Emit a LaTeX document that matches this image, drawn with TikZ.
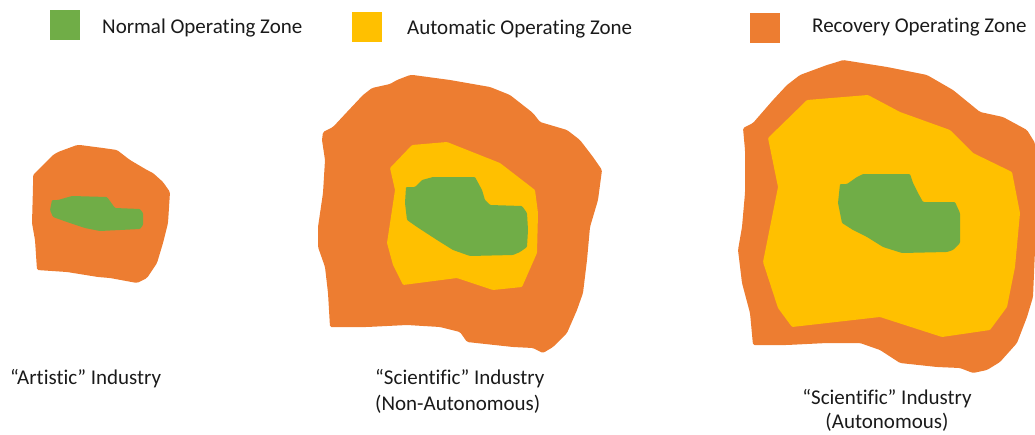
\documentclass[tikz,border=0pt]{standalone}
\usepackage{fontspec}
\setmainfont{Carlito}[Ligatures=NoCommon]
\definecolor{zonegreen}{HTML}{70AD47}
\definecolor{zoneyellow}{HTML}{FFC000}
\definecolor{zoneorange}{HTML}{ED7D31}
\definecolor{labeltext}{HTML}{1A1A1A}
\begin{document}
\begin{tikzpicture}[x=1pt,y=-1pt,
  swatch/.style={minimum width=30pt,minimum height=30pt,inner sep=0pt,outer sep=0pt},
  legendtext/.style={anchor=base west,inner sep=0pt,text=labeltext,font=\fontsize{21}{26}\selectfont},
  caption/.style={inner sep=0pt,text=labeltext,font=\fontsize{21}{26}\selectfont},
  recovery/.style={fill=zoneorange,rounded corners=1.5pt},
  automatic/.style={fill=zoneyellow,rounded corners=1pt},
  normal/.style={fill=zonegreen,rounded corners=1pt}]
\useasboundingbox (0,0) rectangle (1035,434);

% legend
\node[swatch,fill=zonegreen,anchor=north west] (swG) at (50,10) {};
\node[legendtext] (txG) at (102,33) {Normal Operating Zone};
\node[swatch,fill=zoneyellow,anchor=north west] (swY) at (352,12) {};
\node[legendtext] (txY) at (407,34) {Automatic Operating Zone};
\node[swatch,fill=zoneorange,anchor=north west] (swO) at (750,13) {};
\node[legendtext] (txO) at (812,32) {Recovery Operating Zone};

% "artistic" industry: small recovery zone around a thin normal zone
\fill[recovery] (77,145) -- (58,152) -- (53,155) -- (33,175) -- (33,187) -- (32,223)
  -- (35,240) -- (37,270) -- (67,272) -- (98,277) -- (110,278) -- (137,283)
  -- (147,278) -- (157,263) -- (163,243) -- (168,223) -- (170,192) -- (163,182)
  -- (153,173) -- (147,170) -- (130,160) -- (117,150) -- (103,148) -- (80,145) -- cycle;
\fill[normal] (52,200) -- (58,200) -- (72,196) -- (107,197) -- (115,208) -- (140,209)
  -- (143,213) -- (143,225) -- (140,229) -- (100,231) -- (85,228) -- (67,222)
  -- (53,217) -- (50,210) -- cycle;

% "scientific" industry, non-autonomous
\fill[recovery] (410,75) -- (397,80) -- (390,84) -- (372,88) -- (363,95) -- (347,112)
  -- (333,127) -- (323,132) -- (322,140) -- (325,160) -- (323,193) -- (318,227)
  -- (318,247) -- (325,267) -- (328,293) -- (330,327) -- (367,327) -- (407,325)
  -- (440,327) -- (460,332) -- (467,342) -- (513,347) -- (533,348) -- (543,353)
  -- (553,347) -- (567,333) -- (577,310) -- (583,293) -- (587,260) -- (590,227)
  -- (598,200) -- (602,170) -- (593,157) -- (580,140) -- (567,130) -- (540,122)
  -- (533,113) -- (510,95) -- (490,87) -- (450,80) -- (413,75) -- cycle;
\fill[automatic] (390,168) -- (412,145) -- (447,142) -- (500,163) -- (535,190)
  -- (538,213) -- (537,253) -- (522,287) -- (493,290) -- (457,278) -- (403,285)
  -- (393,265) -- (387,243) -- (392,210) -- (395,190) -- cycle;
\fill[normal] (406,187) -- (415,187) -- (422,180) -- (433,177) -- (475,177) -- (482,190)
  -- (485,200) -- (490,205) -- (522,206) -- (527,213) -- (528,230) -- (527,247)
  -- (520,252) -- (513,255) -- (470,256) -- (453,250) -- (437,240) -- (417,227)
  -- (407,220) -- (405,203) -- cycle;

% "scientific" industry, autonomous
\fill[recovery] (837,62) -- (827,65) -- (800,75) -- (787,85) -- (773,100) -- (753,123)
  -- (743,128) -- (745,150) -- (745,193) -- (742,227) -- (738,250) -- (742,283)
  -- (750,313) -- (753,345) -- (787,345) -- (827,343) -- (860,343) -- (880,350)
  -- (900,363) -- (937,367) -- (960,368) -- (973,373) -- (987,370) -- (1000,362)
  -- (1017,343) -- (1027,317) -- (1033,297) -- (1035,250) -- (1035,143) -- (1027,130)
  -- (1003,117) -- (980,112) -- (953,90) -- (927,75) -- (887,67) -- (843,60) -- cycle;
\fill[automatic] (807,100) -- (868,95) -- (900,112) -- (950,130) -- (973,153)
  -- (1012,172) -- (1020,213) -- (1015,267) -- (1007,307) -- (990,330) -- (942,337)
  -- (880,317) -- (792,327) -- (778,308) -- (763,262) -- (778,187) -- (768,138) -- cycle;
\fill[normal] (840,184) -- (847,184) -- (857,177) -- (863,174) -- (910,174) -- (913,183)
  -- (918,193) -- (923,202) -- (955,202) -- (960,213) -- (960,243) -- (953,250)
  -- (947,252) -- (902,253) -- (883,247) -- (867,237) -- (853,230) -- (842,223)
  -- (838,203) -- cycle;

% captions (multi-line nodes sit on the baseline of their last line)
\node[caption,anchor=base west] (capA) at (10,384) {“Artistic” Industry};
\node[caption,anchor=base west,align=left] (capB) at (375,410)
  {“Scientific” Industry\\(Non-Autonomous)};
\node[caption,anchor=base,align=center,font=\fontsize{21}{24}\selectfont] (capC) at (887,428)
  {“Scientific” Industry\\(Autonomous)};
\end{tikzpicture}
\end{document}
